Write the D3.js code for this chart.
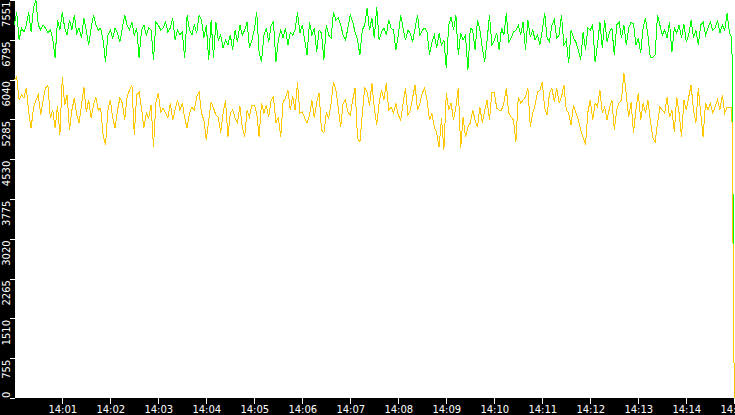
<!DOCTYPE html>
<html>
<head>
<meta charset="utf-8">
<script src="https://cdn.jsdelivr.net/npm/d3@7/dist/d3.min.js"></script>
<style>
  html, body { margin: 0; padding: 0; background: #000; }
  svg { display: block; }
  text { font-family: "DejaVu Sans", sans-serif; }
</style>
</head>
<body>
<svg id="chart" width="735" height="415"></svg>
<script>
// ---- data ----
// samples every 3 seconds from 14:00:00, last sample is the drop at the end
const greenSeries = [
  7076,7322,6791,7019,6943,7076,7322,6943,7398,7550,7076,6981,7076,7019,6924,6981,6829,6450,7171,6981,
  7322,7019,6886,7171,6981,7266,6924,7019,6829,7209,6981,6696,7019,7266,7076,6981,7019,6791,6374,6886,
  6981,6829,7019,6924,6753,7019,7266,7076,6981,7133,6886,7019,6450,6981,7076,6886,7019,6981,6412,7133,
  7076,6981,7019,7133,6943,7019,7209,6791,6981,6886,6943,6450,7266,6981,6886,7076,6924,7266,7171,6829,
  7076,6412,7171,6450,7133,6791,6886,6640,6791,6696,6886,6602,6981,6753,7076,6886,6981,7133,6640,6791,
  6981,7322,6564,6374,6886,7019,6753,7076,7133,6374,6791,6981,6829,7019,6696,6943,6886,6981,7322,6924,
  7076,6791,6507,7133,6886,7019,6564,6981,6924,6412,7076,6886,6829,7322,7171,7209,7076,6886,6791,7019,
  7266,7133,6943,6791,6507,6981,7076,7398,6981,7209,6829,7417,6791,6943,7019,6886,7171,7019,6981,6602,
  6886,7266,7019,6791,6981,6924,6753,7019,7266,6886,6981,7019,6943,6507,6753,6886,6640,6924,6696,6791,
  6260,7076,7228,6981,7266,6507,6924,6791,6886,6222,7019,6981,6602,7171,6981,6640,6374,6791,7266,6696,
  6791,6924,6602,7019,6886,7303,6753,6829,6943,6981,7076,6886,7133,6602,7171,6848,6981,6791,6886,6696,
  6981,7303,6829,6753,7076,7171,6829,6886,7266,6696,6791,6355,6981,6829,6753,6602,6412,6943,6602,7019,
  6981,7076,6374,6696,7133,6640,7171,6753,6943,7019,6507,7076,7133,6829,7076,6696,7019,7133,7095,6696,
  6829,6545,7019,7209,6886,6450,6469,6507,7266,7076,6886,6981,6829,7133,6564,7019,6924,7076,6829,7095,
  6753,6886,7171,6829,6981,6696,7076,7133,6886,7019,7133,6981,7019,7171,6924,7076,6981,7303,6924,6829,
  2580
];
const orangeSeries = [
  6032,6089,5653,5748,5691,5881,5425,5122,5501,5653,5748,5369,5653,5881,5938,5312,5463,5122,5539,4989,
  6089,5558,5748,5084,5463,5691,5369,5217,5558,5900,5425,5653,5312,5558,5710,5463,5501,4989,4799,5463,
  5653,5312,5122,5463,5691,5596,5274,5710,5843,5938,4989,5748,5805,5501,5122,5406,5312,5558,4761,5615,
  5786,5425,5501,5406,5312,5596,5274,5463,5653,5463,5596,5312,5122,5406,5520,5463,5710,5805,5406,5274,
  4894,5274,5615,5501,5369,5331,5027,5406,5653,4951,5406,5463,5312,5217,5539,5141,4951,5463,5331,5558,
  5558,5406,4951,5596,5406,5558,5331,5653,5710,5217,5331,4951,5615,5691,5843,5463,5729,5463,5995,5406,
  5425,5312,5217,5369,5653,5312,5615,5786,5084,5027,5406,5312,5596,5995,5843,5501,5141,5596,5653,5425,
  5369,5653,5881,4932,4856,5406,5881,5805,5539,5976,5501,5179,5596,5843,5653,5976,5463,5520,5406,5596,
  5369,5274,5596,5881,5369,5463,5710,5938,5463,5596,5786,5881,5653,5274,5406,5141,5027,4761,5312,4705,
  5786,5463,5596,5274,5520,5881,4743,5331,4951,5141,5217,5463,5274,5141,5520,5217,5463,5653,5274,5805,
  5805,5501,5463,5463,5596,5881,5406,5331,5274,4856,5710,5596,5653,5710,5881,5141,5406,5558,5805,5843,
  5995,5501,5369,5786,5881,5615,5881,5596,5710,5938,5463,5406,5179,5558,5406,5274,5084,4951,4799,5425,
  5653,5274,5596,5520,5843,5406,5520,5274,5501,5653,5084,5463,5596,5653,6165,5748,5331,5615,5027,5463,
  5786,5274,5596,5406,5653,5274,4951,4856,5217,5520,5463,5406,5710,5331,5463,5046,5710,5406,4951,5653,
  5463,5710,5938,5463,5217,5881,5406,4951,5596,5463,5596,5406,5520,5653,5463,5748,5406,5520,5520,5501,
  0
];
const startTime = "14:00:00";
const stepSeconds = 3;
const greenEndTime = "14:14:59";
const orangeEndTime = "14:15:00";
const yTickValues = [0, 755, 1510, 2265, 3020, 3775, 4530, 5285, 6040, 6795, 7551];
const xTickLabels = ["14:01","14:02","14:03","14:04","14:05","14:06","14:07","14:08","14:09","14:10","14:11","14:12","14:13","14:14","14:15"];
const yMax = 7551;

// ---- chart ----
const W = 735, H = 415;
const plotLeft = 15, plotBottom = 398;
const parseT = s => {
  const p = s.split(":").map(Number);
  return new Date(Date.UTC(2024, 0, 1, p[0], p[1], p[2] || 0));
};
const t0 = parseT(startTime);
const tEnd = parseT("14:15:00");

function buildSeries(values, endTime) {
  return values.map((v, i) => ({
    t: i === values.length - 1 ? parseT(endTime) : new Date(+t0 + i * stepSeconds * 1000),
    v
  }));
}
const greenData = buildSeries(greenSeries, greenEndTime);
const orangeData = buildSeries(orangeSeries, orangeEndTime);

const svg = d3.select("#chart");
svg.append("rect").attr("width", W).attr("height", H).attr("fill", "#000");
svg.append("rect").attr("x", plotLeft).attr("y", 0).attr("width", W - plotLeft).attr("height", plotBottom).attr("fill", "#fff");

const x = d3.scaleUtc().domain([t0, tEnd]).range([14.3, 734.3]);
const y = d3.scaleLinear().domain([0, yMax]).range([plotBottom, 0]);

const line = d3.line().x(d => x(d.t)).y(d => y(d.v)).curve(d3.curveLinear);

svg.append("path").datum(greenData)
  .attr("d", line).attr("fill", "none").attr("stroke", "#00ff00")
  .attr("stroke-width", 1).attr("shape-rendering", "crispEdges");
svg.append("path").datum(orangeData)
  .attr("d", line).attr("fill", "none").attr("stroke", "#ffc800")
  .attr("stroke-width", 1).attr("shape-rendering", "crispEdges");

// y axis
const yAxis = d3.axisLeft(y).tickValues(yTickValues).tickSize(5).tickFormat(d3.format("d"));
const gy = svg.append("g").attr("transform", `translate(${plotLeft},0)`).call(yAxis);
gy.select(".domain").remove();
gy.selectAll(".tick line").attr("stroke", "#fff").attr("shape-rendering", "crispEdges");
gy.selectAll(".tick text")
  .attr("fill", "#fff").attr("font-size", 10)
  .attr("x", null).attr("dy", null)
  .attr("text-anchor", d => d === 0 ? "start" : "end")
  .attr("transform", d => `translate(-5,${d === 0 ? -0.5 : 1}) rotate(-90)`)
  .attr("y", 0);

// x axis
const xTicks = xTickLabels.map(parseT);
const xAxis = d3.axisBottom(x).tickValues(xTicks).tickSize(6).tickFormat(d3.utcFormat("%H:%M"));
const gx = svg.append("g").attr("transform", `translate(0,${plotBottom})`).call(xAxis);
gx.select(".domain").remove();
gx.selectAll(".tick line").attr("stroke", "#fff").attr("shape-rendering", "crispEdges");
gx.selectAll(".tick text").attr("fill", "#fff").attr("font-size", 10).attr("y", 8);
</script>
</body>
</html>
